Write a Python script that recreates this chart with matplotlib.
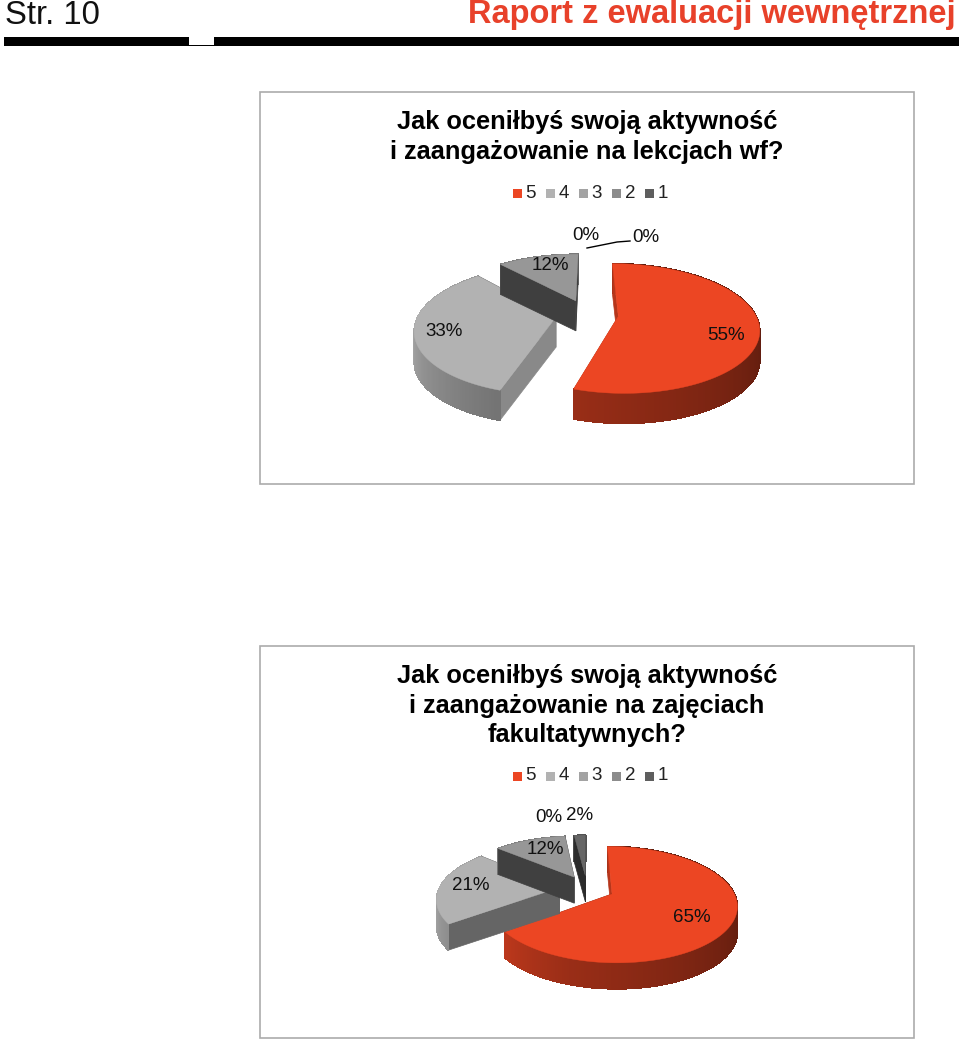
import numpy as np
import matplotlib
matplotlib.use('Agg')
import matplotlib.pyplot as plt
from matplotlib.patches import Polygon, Rectangle

plt.rcParams['font.family'] = ['Liberation Sans', 'DejaVu Sans']

# chart data
categories = ['5', '4', '3', '2', '1']
values_wf = [55, 33, 12, 0, 0]
values_fak = [65, 21, 12, 0, 2]
title_wf = 'Jak oceniłbyś swoją aktywność\ni zaangażowanie na lekcjach wf?'
title_fak = 'Jak oceniłbyś swoją aktywność\ni zaangażowanie na zajęciach\nfakultatywnych?'

colors = ['#EC4623', '#B2B2B2', '#979797', '#8A8A8A', '#666666']
legend_colors = ['#EC4623', '#B2B2B2', '#A3A3A3', '#8C8C8C', '#5E5E5E']

fig = plt.figure(figsize=(9.6, 10.4), dpi=100)
ax = fig.add_axes([0, 0, 1, 1])
ax.set_xlim(0, 960)
ax.set_ylim(1040, 0)
ax.axis('off')


def shade(color, factor):
    rgb = np.array(matplotlib.colors.to_rgb(color))
    return tuple(np.clip(rgb * factor, 0, 1))


def wall_factor(angle):
    return np.interp(angle, [60, 90, 198, 234, 270, 330], [0.38, 0.38, 0.65, 0.8, 1.0, 0.8])


def cut_factor(angle):
    return np.interp(angle, [198, 234, 310, 360], [0.77, 0.57, 0.42, 0.42])


def draw_pie(values, cx, cy, rx, ry, depth, label_pos):
    explode = 0.23
    persp = 0.19

    def project(u, v):
        s = 1 + persp * v
        return cx + rx * u * s, cy + ry * v * s

    start = 0
    for value, color, pos in zip(values, colors, label_pos):
        span = value * 3.6
        end = start + span
        mid = np.radians((start + end) / 2)
        ou, ov = explode * np.sin(mid), -explode * np.cos(mid)

        if value > 0:
            angles = np.linspace(start, end, max(int(span), 3))
            rad = np.radians(angles)
            edge = [project(ou + np.sin(a), ov - np.cos(a)) for a in rad]
            apex = project(ou, ov)

            # side faces back to front, top face last
            faces = []
            for k in range(len(edge) - 1):
                p, q = edge[k], edge[k + 1]
                quad = [p, q, (q[0], q[1] + depth), (p[0], p[1] + depth)]
                faces.append((p[1] + q[1], quad, shade(color, wall_factor(angles[k])), False))
            for a, p in ((start, edge[0]), (end, edge[-1])):
                quad = [apex, p, (p[0], p[1] + depth), (apex[0], apex[1] + depth)]
                faces.append((apex[1] + p[1], quad, shade(color, cut_factor(a)), True))
            for _, quad, c, smooth in sorted(faces, key=lambda f: f[0]):
                ax.add_patch(Polygon(quad, closed=True, facecolor=c, edgecolor=c, lw=0.5, antialiased=smooth))
            ax.add_patch(Polygon([apex] + edge, closed=True, facecolor=color, edgecolor=color, lw=0.3))

        ax.text(pos[0], pos[1], f'{value}%', fontsize=13.5, ha='center', va='center', color='#111111')
        start = end


def draw_legend(y):
    for i, (name, c) in enumerate(zip(categories, legend_colors)):
        x = 513 + i * 33
        ax.add_patch(Rectangle((x, y - 4.5), 9, 9, facecolor=c, edgecolor='none'))
        ax.text(x + 12.5, y, name, fontsize=13.5, ha='left', va='center', color='#222222')


def draw_panel(top, title, title_y):
    ax.add_patch(Rectangle((260, top), 654, 392, facecolor='white', edgecolor='#ABABAB', lw=1.2))
    ax.text(587, title_y, title, fontsize=18.3, fontweight='bold', ha='center', va='top',
            linespacing=1.29, color='black')


# page header
ax.text(5, 16, 'Str. 10', fontsize=23.7, ha='left', va='center', color='#111111')
ax.text(956, 15, 'Raport z ewaluacji wewnętrznej', fontsize=23.5, fontweight='bold',
        ha='right', va='center', color='#E8412A')
ax.add_patch(Rectangle((4, 37), 955, 9, facecolor='black', edgecolor='none'))
ax.add_patch(Rectangle((189, 37), 25, 8, facecolor='white', edgecolor='none'))

# first chart
draw_panel(92, title_wf, 110)
draw_legend(193)
draw_pie(values_wf, 587, 314, 137, 64, 30,
         [(726, 336), (444, 332), (550, 265), (586, 235), (646, 237)])
ax.plot([587, 617, 630], [248, 242, 241], color='black', lw=1)

# second chart
draw_panel(646, title_fak, 664)
draw_legend(776)
draw_pie(values_fak, 587, 888, 120, 56, 26,
         [(692, 918), (471, 886), (545, 849), (549, 817), (580, 815)])

fig.savefig('out.png', dpi=100)
